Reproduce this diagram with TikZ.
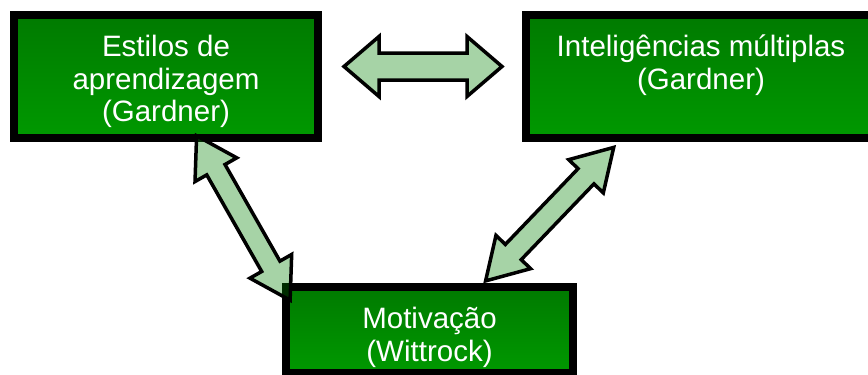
\documentclass[tikz,border=0pt]{standalone}
\usepackage{fontspec}
\setmainfont{Liberation Sans}
\usetikzlibrary{calc}
\usetikzlibrary{positioning}
\definecolor{boxTop}{RGB}{0,122,0}
\definecolor{boxBottom}{RGB}{0,153,0}
\definecolor{arrowGreen}{RGB}{0,128,0}
\tikzset{
  boxNode/.style={%
    rectangle, draw=black, line width=8pt,
    top color=boxTop, bottom color=boxBottom,
  },
  textNode/.style={%
    anchor=north, inner sep=0pt, align=center, text=white,
    font=\fontsize{29.5}{32.5}\selectfont,
  },
  arrowShape/.style={%
    draw=black, line width=3.5pt, line join=miter,
    fill=arrowGreen, fill opacity=0.35,
  }
}
% double block arrow: from, to, head length, head half width, shaft half width
\newcommand{\dblArrow}[5]{%
  \draw[arrowShape] (#1)
    -- ($(#1)!#3!(#2)!#4!90:(#2)$)
    -- ($(#1)!#3!(#2)!#5!90:(#2)$)
    -- ($(#2)!#3!(#1)!#5!-90:(#1)$)
    -- ($(#2)!#3!(#1)!#4!-90:(#1)$)
    -- (#2)
    -- ($(#2)!#3!(#1)!#4!90:(#1)$)
    -- ($(#2)!#3!(#1)!#5!90:(#1)$)
    -- ($(#1)!#3!(#2)!#5!-90:(#2)$)
    -- ($(#1)!#3!(#2)!#4!-90:(#2)$)
    -- cycle;
}

\begin{document}
\begin{tikzpicture}[x=1pt,y=-1pt]
        \useasboundingbox (0,0) rectangle (868,375);
        \clip (0,0) rectangle (868,375);
        % boxes
        \node[boxNode, minimum width=304pt, minimum height=123pt] (estilos) at (166,76.5) {};
        \node[boxNode, minimum width=350pt, minimum height=123pt] (inteligencias) at (701,76.5) {};
        \node[boxNode, minimum width=287pt, minimum height=86pt] (motivacao) at (429.5,330) {};
        \node[textNode, below=24pt of estilos.north] (estilosText) {Estilos de\\aprendizagem\\(Gardner)};
        \node[textNode, below=24pt of inteligencias.north] (inteligenciasText) {Inteligências múltiplas\\(Gardner)};
        \node[textNode, below=24pt of motivacao.north] (motivacaoText) {Motivação\\(Wittrock)};
        % arrow ends
        \coordinate (estilosRight) at ($(estilos.east)+(22,-10)$);
        \coordinate (inteligenciasLeft) at ($(inteligencias.west)+(-20,-10)$);
        \coordinate (estilosBottom) at ($(estilos.south)+(30.6,-6.2)$);
        \coordinate (motivacaoLeft) at ($(motivacao.north west)+(8.1,17.2)$);
        \coordinate (inteligenciasBottom) at ($(inteligencias.south west)+(91.7,5.4)$);
        \coordinate (motivacaoTop) at ($(motivacao.north)+(56.1,-2.1)$);
        \dblArrow{estilosRight}{inteligenciasLeft}{35pt}{30pt}{13.5pt}
        \dblArrow{estilosBottom}{motivacaoLeft}{39pt}{24pt}{10.5pt}
        \dblArrow{inteligenciasBottom}{motivacaoTop}{40pt}{24pt}{11pt}
      \end{tikzpicture}
\end{document}
